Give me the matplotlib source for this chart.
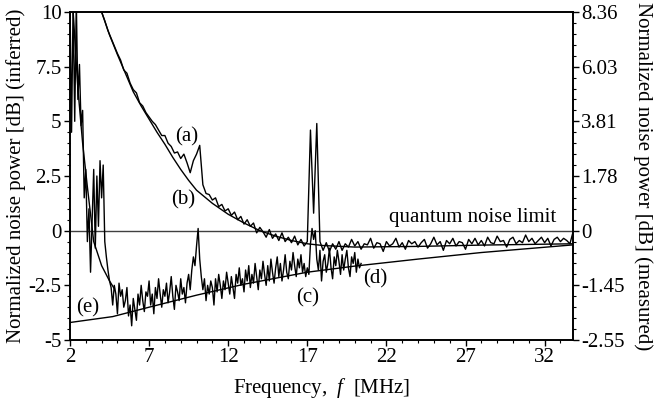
import numpy as np
import matplotlib
matplotlib.use("Agg")
import matplotlib.pyplot as plt
from matplotlib.ticker import FixedLocator, MultipleLocator

plt.rcParams['font.family'] = ['Liberation Serif', 'DejaVu Serif']
plt.rcParams['mathtext.fontset'] = 'custom'
plt.rcParams['mathtext.it'] = 'Liberation Serif:italic'
plt.rcParams['mathtext.rm'] = 'Liberation Serif'

# ---- data ----
# theory curve (b)
f_b = [4.0, 4.5, 5.0, 5.5, 6.0, 6.5, 7.0, 7.5, 8.0, 8.5, 9.0, 9.5, 10.0, 10.5, 11.0,
       12.0, 13.0, 14.0, 15.0, 16.0, 17.0, 18.0, 20.0, 24.0, 28.0, 33.8]
v_b = [10.0, 8.95, 8.05, 7.2, 6.35, 5.7, 5.1, 4.5, 3.95, 3.35, 2.8, 2.3, 1.85, 1.55, 1.25,
       0.75, 0.35, 0.0, -0.25, -0.45, -0.6, -0.68, -0.75, -0.72, -0.66, -0.6]

# theory line (d)/(e)
f_d = [2.0, 4.7, 7.0, 10.0, 13.0, 17.0, 20.0, 24.0, 28.0, 33.8]
v_d = [-4.2, -3.93, -3.5, -2.95, -2.45, -1.9, -1.62, -1.3, -1.0, -0.65]

# low-frequency theory branch
f_e = [2.2, 2.5, 2.8, 3.1, 3.5, 4.0, 4.5, 4.8]
v_e = [10.0, 6.5, 4.0, 2.0, -0.5, -1.6, -2.3, -2.65]

# measured trace (a), 0.2 MHz steps from 4.0 MHz
a_start, a_step = 4.0, 0.2
v_a = [10.0, 9.6, 9.15, 8.8, 8.45, 8.1, 7.8, 7.35, 7.2, 6.75,
       6.45, 6.3, 5.85, 5.7, 5.4, 5.2, 5.0, 4.85, 4.6, 4.35,
       4.35, 4.0, 3.85, 3.55, 3.6, 3.3, 3.5, 3.1, 2.65, 3.2,
       3.5, 3.9, 2.1, 1.7, 1.65, 1.4, 1.5, 1.1, 1.2, 0.9,
       1.0, 0.7, 0.85, 0.5, 0.65, 0.3, 0.5, 0.2, 0.35, -0.1,
       0.15, -0.05, -0.3, 0.05, -0.35, -0.15, -0.45, -0.1, -0.5, -0.3,
       -0.55, -0.25, -0.65, -0.4, -0.7, -0.5, 4.6, 0.8, 4.9, -0.5,
       -0.9, -0.55, -0.95, -0.6, -0.85, -0.5, -0.9, -0.6, -0.75, -0.4,
       -0.7, -0.5, -0.85, -0.6, -0.65, -0.35, -0.8, -0.55, -0.6, -0.95,
       -0.5, -0.7, -0.6, -0.35, -0.75, -0.55, -0.85, -0.45, -0.6, -0.5,
       -0.75, -0.55, -0.4, -0.8, -0.6, -0.3, -0.65, -0.5, -0.9, -0.45,
       -0.6, -0.35, -0.7, -0.5, -0.55, -0.85, -0.4, -0.6, -0.35, -0.65,
       -0.45, -0.7, -0.3, -0.55, -0.6, -0.25, -0.5, -0.45, -0.75, -0.4,
       -0.3, -0.6, -0.45, -0.55, -0.2, -0.5, -0.35, -0.6, -0.45, -0.3,
       -0.55, -0.35, -0.7, -0.4, -0.3, -0.5, -0.35, -0.45, -0.6, -0.05]

# measured trace (c), 0.1 MHz steps from 2.0 MHz
c_start, c_step = 2.0, 0.1
v_c = [10.5, 4.5, 10.5, 5.0, 10.5, 6.0, 7.6, 4.8, 5.5, 1.5,
       2.8, -0.5, 1.0, -1.9, 0.5, 2.8, -0.8, 2.5, 0.2, 3.2,
       1.5, 3.0, -0.5, -1.2, -1.8, -2.3,
       -2.6, -3.4, -2.5, -2.9, -3.8, -2.4, -3.0, -2.7, -3.5, -3.2,
       -2.6, -3.9, -3.4, -4.35, -3.1, -3.6, -4.1, -2.9, -3.4, -2.5,
       -3.2, -3.7, -2.8, -3.0, -2.3, -3.4, -2.9, -3.8, -2.6, -3.1,
       -2.2, -2.9, -3.5, -2.7, -3.0, -2.4, -3.3, -2.8, -2.1, -3.0,
       -3.6, -2.5, -2.8, -3.2, -2.2, -2.9, -2.6, -3.3, -2.4, -2.0,
       -2.7, -1.8, -1.2, -1.6, -0.7, 0.1, -1.3, -2.1, -2.7, -2.2,
       -3.2, -2.5, -2.9, -2.3, -2.6, -3.4, -2.2, -2.8, -2.0, -2.5,
       -3.1, -2.3, -2.7, -1.9, -2.4, -2.9, -2.1, -2.6, -3.1, -2.0,
       -2.4, -1.7, -2.5, -2.2, -2.8, -1.8, -2.3, -1.6, -2.6, -2.0,
       -2.4, -1.5, -2.1, -2.7, -1.8, -2.2, -1.4, -2.0, -2.5, -1.6,
       -2.3, -1.3, -1.9, -2.4, -1.7, -1.2, -2.1, -1.5, -2.3, -1.8,
       -1.1, -1.9, -2.2, -1.4, -1.8, -1.0, -1.6, -2.1, -1.3, -1.7,
       -1.1, -1.9, -1.5, -2.1, -1.7, -2.0, -0.6, 0.1, -0.4, 0.0,
       -1.3, -1.8, -0.9, -2.3, -1.4, -1.1, -1.9, -1.5, -0.8, -1.7,
       -2.2, -1.2, -1.6, -0.9, -1.4, -2.0, -1.1, -1.8, -1.3, -0.9,
       -1.7, -2.1, -1.2, -1.5, -1.0, -1.9, -1.3, -1.7, -1.5]

left_ticks = [-5, -2.5, 0, 2.5, 5, 7.5, 10]
left_labels = ['-5', '-2.5', '0', '2.5', '5', '7.5', '10']
right_labels = ['-2.55', '-1.45', '0', '1.78', '3.81', '6.03', '8.36']
x_ticks = [2, 7, 12, 17, 22, 27, 32]

f_a = a_start + a_step * np.arange(len(v_a))
f_c = c_start + c_step * np.arange(len(v_c))

fig = plt.figure(figsize=(6.62, 4.05), dpi=100)
ax = fig.add_axes([0.1057, 0.1605, 0.7600, 0.8099])

lw = 1.0
ax.axhline(0, color='0.25', lw=1.0)
ax.plot(f_b, v_b, color='k', lw=lw)
ax.plot(f_d, v_d, color='k', lw=lw)
ax.plot(f_e, v_e, color='k', lw=lw)
ax.plot(f_a, v_a, color='k', lw=lw)
ax.plot(f_c, v_c, color='k', lw=lw)

ax.set_xlim(2, 33.8)
ax.set_ylim(-5, 10)

ax.xaxis.set_major_locator(FixedLocator(x_ticks))
ax.set_xticklabels([str(t) for t in x_ticks])
ax.xaxis.set_minor_locator(MultipleLocator(1))
ax.yaxis.set_major_locator(FixedLocator(left_ticks))
ax.set_yticklabels(left_labels)
ax.yaxis.set_minor_locator(MultipleLocator(0.5))

ax2 = ax.twinx()
ax2.set_ylim(-5, 10)
ax2.yaxis.set_major_locator(FixedLocator(left_ticks))
ax2.set_yticklabels(right_labels)
ax2.yaxis.set_minor_locator(MultipleLocator(0.5))

for a in (ax, ax2):
    a.tick_params(which='major', direction='out', length=4, width=1, labelsize=15, pad=2)
    a.tick_params(which='minor', direction='out', length=2.5, width=0.8)
    for s in a.spines.values():
        s.set_linewidth(1.2)

ax.set_xlabel('Frequency,  $\\mathit{f}$  [MHz]', fontsize=15, labelpad=6)
ax.set_ylabel('Normalized noise power [dB] (inferred)', fontsize=15, labelpad=2)
ax2.set_ylabel('Normalized noise power [dB] (measured)', fontsize=15, rotation=270, labelpad=20)

ax.text(9.4, 4.3, '(a)', fontsize=15, ha='center', va='center')
ax.text(9.15, 1.4, '(b)', fontsize=15, ha='center', va='center')
ax.text(17.05, -3.08, '(c)', fontsize=15, ha='center', va='center')
ax.text(21.3, -2.2, '(d)', fontsize=15, ha='center', va='center')
ax.text(3.14, -3.53, '(e)', fontsize=15, ha='center', va='center')
ax.text(32.75, 0.15, 'quantum noise limit', fontsize=15, ha='right', va='bottom')

fig.savefig('out.png', dpi=100)
